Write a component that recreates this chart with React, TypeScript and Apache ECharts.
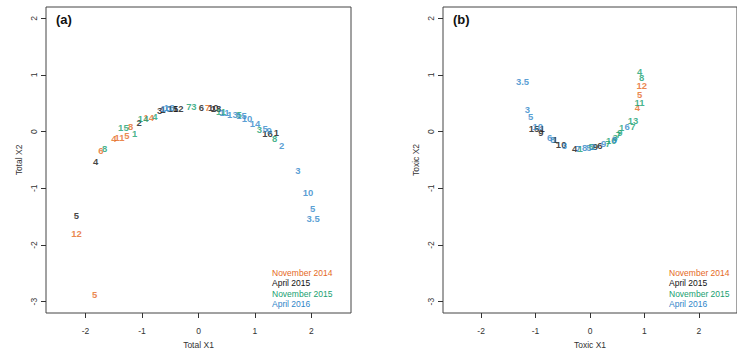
import React, { useEffect, useRef } from "react";
import * as echarts from "echarts";

// ---- Series names and colours ----
const seriesNames = ["November 2014", "April 2015", "November 2015", "April 2016"];
const seriesColors = ["#E5691E", "#111111", "#16A070", "#2F86C9"];

// ---- Axis ticks ----
const xTicks = [-2, -1, 0, 1, 2];
const yTicks = [-3, -2, -1, 0, 1, 2];

// ---- Panel (a): Total ----
const aNov14Labels = ["12", "5", "6", "4", "11", "5", "8", "14", "7"];
const aNov14X = [-2.16, -1.84, -1.73, -1.5, -1.4, -1.27, -1.2, -0.88, 0.16];
const aNov14Y = [-1.79, -2.87, -0.33, -0.12, -0.1, -0.07, 0.1, 0.25, 0.42];

const aApr15Labels = ["5", "4", "2", "3", "1", "15", "12", "6", "10", "13", "16", "1"];
const aApr15X = [-2.16, -1.82, -1.05, -0.69, -0.63, -0.45, -0.36, 0.05, 0.26, 0.31, 1.22, 1.38];
const aApr15Y = [-1.48, -0.52, 0.16, 0.38, 0.39, 0.41, 0.41, 0.42, 0.42, 0.41, -0.04, -0.02];

const aNov15Labels = ["8", "15", "1", "14", "4", "7", "3", "11", "5", "3", "8"];
const aNov15X = [-1.66, -1.33, -1.13, -0.98, -0.77, -0.17, -0.08, 0.4, 0.72, 1.08, 1.35];
const aNov15Y = [-0.3, 0.08, -0.03, 0.24, 0.27, 0.44, 0.44, 0.36, 0.3, 0.04, -0.12];

const aApr16Labels = ["10", "13", "11", "13", "15", "10", "14", "5", "9", "2", "3", "10", "5", "3.5"];
const aApr16X = [-0.58, -0.52, 0.46, 0.6, 0.76, 0.86, 1.0, 1.18, 1.25, 1.47, 1.76, 1.94, 2.02, 2.03];
const aApr16Y = [0.41, 0.42, 0.34, 0.31, 0.29, 0.23, 0.15, 0.05, 0.02, -0.24, -0.68, -1.07, -1.36, -1.54];

// ---- Panel (b): Toxic ----
const bNov14Labels = ["12", "5", "4"];
const bNov14X = [0.95, 0.91, 0.87];
const bNov14Y = [0.81, 0.66, 0.42];

const bApr15Labels = ["15", "1", "9", "1", "10", "4", "9", "6"];
const bApr15X = [-1.03, -0.88, -0.9, -0.64, -0.53, -0.28, 0.1, 0.18];
const bApr15Y = [0.06, 0.06, -0.01, -0.14, -0.22, -0.29, -0.26, -0.25];

const bNov15Labels = ["4", "8", "11", "1", "5", "7", "10", "3", "7", "9", "1", "13", "7"];
const bNov15X = [0.91, 0.95, 0.91, -0.18, 0.02, 0.33, 0.39, 0.46, 0.52, 0.55, 0.58, 0.79, 0.79];
const bNov15Y = [1.07, 0.95, 0.52, -0.29, -0.27, -0.2, -0.15, -0.11, -0.05, -0.01, 0.07, 0.19, 0.09];

const bApr16Labels = ["3.5", "3", "5", "10", "6", "8", "3", "7", "5", "8", "2", "9", "8", "6"];
const bApr16X = [-1.24, -1.15, -1.09, -0.96, -0.74, -0.68, -0.47, -0.22, -0.02, -0.1, 0.06, 0.25, 0.45, 0.68];
const bApr16Y = [0.88, 0.39, 0.27, 0.09, -0.11, -0.13, -0.24, -0.29, -0.28, -0.28, -0.27, -0.21, -0.14, 0.1];

const panelA = [
  { labels: aNov14Labels, x: aNov14X, y: aNov14Y },
  { labels: aApr15Labels, x: aApr15X, y: aApr15Y },
  { labels: aNov15Labels, x: aNov15X, y: aNov15Y },
  { labels: aApr16Labels, x: aApr16X, y: aApr16Y },
];
const panelB = [
  { labels: bNov14Labels, x: bNov14X, y: bNov14Y },
  { labels: bApr15Labels, x: bApr15X, y: bApr15Y },
  { labels: bNov15Labels, x: bNov15X, y: bNov15Y },
  { labels: bApr16Labels, x: bApr16X, y: bApr16Y },
];

const FONT = "'Liberation Sans', Arial, sans-serif";
const TEXT = "#333";

function buildSeries(panel: typeof panelA, axisIndex: number) {
  return panel.map((s, i) => ({
    type: "scatter",
    name: seriesNames[i],
    xAxisIndex: axisIndex,
    yAxisIndex: axisIndex,
    symbolSize: 1,
    itemStyle: { color: "rgba(0,0,0,0)" },
    data: s.labels.map((lab, k) => [s.x[k], s.y[k], lab]),
    label: {
      show: true,
      position: "inside",
      formatter: (p: any) => p.value[2],
      color: seriesColors[i],
      fontSize: 9.5,
      fontWeight: "bold",
      fontFamily: FONT,
    },
    emphasis: { disabled: true },
  }));
}

function xAxisFor(gridIndex: number, name: string) {
  return {
    type: "value",
    gridIndex,
    position: "bottom",
    min: -2.7,
    max: 2.7,
    name,
    nameLocation: "middle",
    nameGap: 27,
    nameTextStyle: { fontSize: 8.5, color: TEXT, fontFamily: FONT },
    axisLine: { show: false, onZero: false },
    splitLine: { show: false },
    axisTick: { show: true, length: 5, customValues: xTicks, lineStyle: { color: TEXT } },
    axisLabel: { customValues: xTicks, fontSize: 8.5, color: TEXT, fontFamily: FONT, margin: 13 },
  };
}

function yAxisFor(gridIndex: number, name: string) {
  return {
    type: "value",
    gridIndex,
    position: "left",
    min: -3.2,
    max: 2.2,
    name,
    nameLocation: "middle",
    nameGap: 23,
    nameTextStyle: { fontSize: 8.5, color: TEXT, fontFamily: FONT },
    axisLine: { show: false, onZero: false },
    splitLine: { show: false },
    axisTick: { show: true, length: 5, customValues: yTicks, lineStyle: { color: TEXT } },
    axisLabel: { customValues: yTicks, fontSize: 8.5, color: TEXT, fontFamily: FONT, margin: 8, rotate: 90 },
  };
}

function legendFor(left: number) {
  return {
    orient: "vertical",
    left,
    top: 263,
    itemWidth: 0,
    itemHeight: 0,
    itemGap: 1.5,
    selectedMode: false,
    icon: "rect",
    data: seriesNames.map((n, i) => ({
      name: n,
      textStyle: { color: seriesColors[i], fontSize: 8.5, fontFamily: FONT },
    })),
  };
}

export default function App() {
  const ref = useRef<HTMLDivElement>(null);
  useEffect(() => {
    if (!ref.current) return;
    const chart = echarts.init(ref.current, undefined, { renderer: "svg" });
    chart.setOption({
      animation: false,
      backgroundColor: "#fff",
      grid: [
        { left: 46, top: 7, width: 305, height: 306, show: true, borderColor: "#444", borderWidth: 1, backgroundColor: "transparent" },
        { left: 443, top: 7, width: 305, height: 306, show: true, borderColor: "#444", borderWidth: 1, backgroundColor: "transparent" },
      ],
      xAxis: [xAxisFor(0, "Total X1"), xAxisFor(1, "Toxic X1")],
      yAxis: [yAxisFor(0, "Total X2"), yAxisFor(1, "Toxic X2")],
      legend: [legendFor(262), legendFor(659)],
      graphic: [
        { type: "text", left: 56, top: 13, style: { text: "(a)", fontSize: 13, fontWeight: "bold", fill: "#111", fontFamily: FONT } },
        { type: "text", left: 453, top: 13, style: { text: "(b)", fontSize: 13, fontWeight: "bold", fill: "#111", fontFamily: FONT } },
      ],
      series: [...buildSeries(panelA, 0), ...buildSeries(panelB, 1)],
    });
    return () => chart.dispose();
  }, []);
  return <div ref={ref} style={{ position: "absolute", left: 0, top: 0, width: 737, height: 354 }} />;
}
